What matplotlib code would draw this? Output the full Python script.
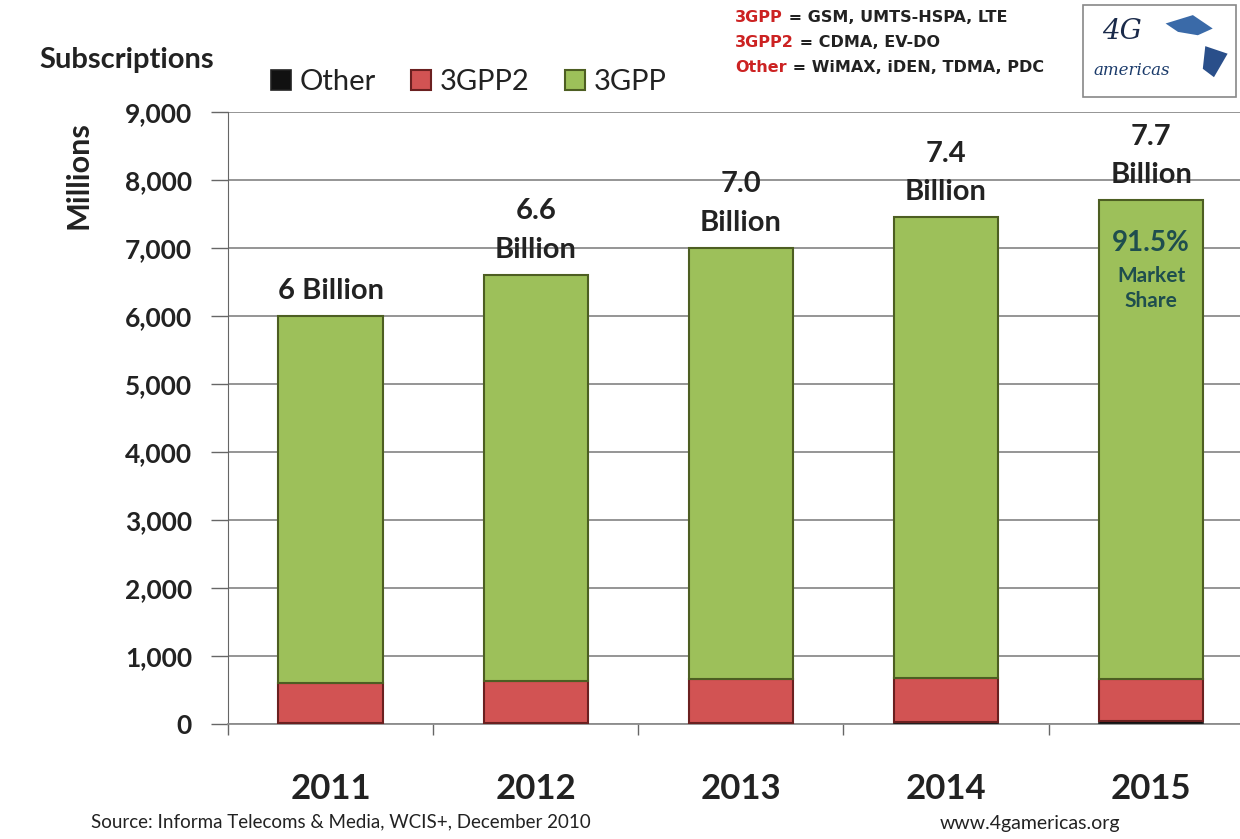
import matplotlib
matplotlib.use("Agg")
import matplotlib.pyplot as plt
from matplotlib.patches import Rectangle, Polygon
import numpy as np

years = ["2011", "2012", "2013", "2014", "2015"]
other = [20, 20, 20, 30, 40]
gpp2 = [580, 610, 640, 640, 620]
gpp = [5400, 5970, 6340, 6780, 7040]
top_labels = ["6 Billion", "6.6\nBillion", "7.0\nBillion", "7.4\nBillion", "7.7\nBillion"]
yticks = list(range(0, 9001, 1000))

plt.rcParams['font.family'] = ['Lato', 'DejaVu Sans']

fig = plt.figure(figsize=(12.4, 8.39), dpi=100)
ax = fig.add_axes([0.184, 0.137, 0.827, 0.7295])

x = np.arange(len(years))
w = 0.51
c_other = "#111111"
c_gpp2 = "#D25353"
c_gpp = "#9DC05A"

b1 = ax.bar(x, other, w, color=c_other, edgecolor="#222222", linewidth=1.2, zorder=3, label="Other")
b2 = ax.bar(x, gpp2, w, bottom=other, color=c_gpp2, edgecolor="#6b2020", linewidth=1.5, zorder=3, label="3GPP2")
bottom3 = [a + b for a, b in zip(other, gpp2)]
b3 = ax.bar(x, gpp, w, bottom=bottom3, color=c_gpp, edgecolor="#4d5e22", linewidth=1.5, zorder=3, label="3GPP")

ax.set_xlim(-0.5, 4.5)
ax.set_ylim(0, 9000)
ax.set_yticks(yticks)
ax.set_yticklabels([f"{v:,}" for v in yticks], fontsize=19, fontweight='bold', color="#222222")
ax.yaxis.grid(True, color="#8c8c8c", linewidth=1.3, zorder=0)
ax.set_axisbelow(True)

ax.set_xticks(x)
ax.set_xticklabels(years, fontsize=25, fontweight='bold', color="#222222")
ax.set_xticks(np.arange(-0.5, 5, 1), minor=True)
ax.tick_params(axis='x', which='major', length=0, pad=35)
ax.tick_params(axis='x', which='minor', length=8, color="#666666", width=1)
ax.tick_params(axis='y', length=12, color="#666666", width=1, pad=14)

for s in ["top", "right"]:
    ax.spines[s].set_visible(False)
ax.spines["left"].set_color("#666666")
ax.spines["bottom"].set_color("#8c8c8c")
ax.spines["bottom"].set_linewidth(1.3)

totals = [a + b + c for a, b, c in zip(other, gpp2, gpp)]
for i, (t, lab) in enumerate(zip(totals, top_labels)):
    ax.text(i, t + 180, lab, ha='center', va='bottom', fontsize=21, fontweight='bold',
            color="#222222", linespacing=1.6)

ax.text(4, 7080, "91.5%", ha='center', va='center', fontsize=20, fontweight='bold', color="#1f4e4e", zorder=5)
ax.text(4, 6400, "Market\nShare", ha='center', va='center', fontsize=15, fontweight='bold',
        color="#1f4e4e", linespacing=1.3, zorder=5)

ax.set_ylabel("Millions", fontsize=22, fontweight='bold', color="#222222")
ax.yaxis.set_label_coords(-0.132, 0.897)

fig.text(0.032, 0.928, "Subscriptions", fontsize=21, fontweight='bold', color="#222222", va='center')

leg = fig.legend(handles=[b1, b2, b3], labels=["Other", "3GPP2", "3GPP"], loc='center left',
                 bbox_to_anchor=(0.197, 0.902), ncol=3, frameon=False, fontsize=21,
                 handlelength=0.7, handleheight=0.7, handletextpad=0.3, columnspacing=1.2)
for t in leg.get_texts():
    t.set_color("#222222")

red = "#cc2222"
lines = [("3GPP", " = GSM, UMTS-HSPA, LTE", 0.979),
         ("3GPP2", " = CDMA, EV-DO", 0.949),
         ("Other", " = WiMAX, iDEN, TDMA, PDC", 0.919)]
fig.canvas.draw()
for key, rest, yy in lines:
    t1 = fig.text(0.593, yy, key, fontsize=11.5, fontweight='bold', color=red, va='center',
                  family=['DejaVu Sans'])
    fig.canvas.draw()
    bb = t1.get_window_extent()
    x2 = bb.x1 / fig.bbox.width
    fig.text(x2, yy, rest, fontsize=11.5, fontweight='bold', color="#222222", va='center',
             family=['DejaVu Sans'])

logo = Rectangle((0.873, 0.884), 0.124, 0.11, transform=fig.transFigure, fill=False,
                 edgecolor="#888888", linewidth=1.2)
fig.add_artist(logo)
fig.text(0.905, 0.962, "4G", fontsize=20, fontstyle='italic', color="#1a2a4a", ha='center', va='center',
         family=['DejaVu Serif'])
fig.text(0.913, 0.916, "americas", fontsize=12, fontstyle='italic', color="#1a3a6a", ha='center', va='center',
         family=['DejaVu Serif'])
shape1 = Polygon([(0.94, 0.972), (0.962, 0.982), (0.978, 0.966), (0.966, 0.958), (0.95, 0.962)],
                 closed=True, transform=fig.transFigure, facecolor="#3a6aa8", edgecolor="none")
shape2 = Polygon([(0.972, 0.945), (0.99, 0.936), (0.979, 0.908), (0.97, 0.918)],
                 closed=True, transform=fig.transFigure, facecolor="#2a4f8a", edgecolor="none")
fig.add_artist(shape1)
fig.add_artist(shape2)

fig.text(0.073, 0.021, "Source: Informa Telecoms & Media, WCIS+, December 2010", fontsize=13.5,
         color="#222222", va='center')
fig.text(0.758, 0.018, "www.4gamericas.org", fontsize=14, color="#222222", va='center')

fig.savefig("out.png", dpi=100)
